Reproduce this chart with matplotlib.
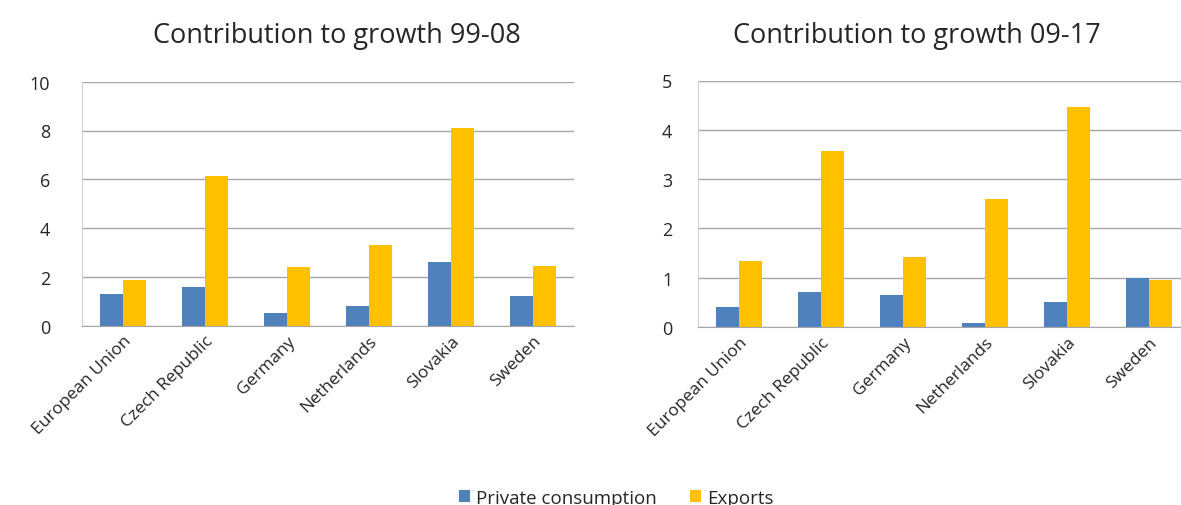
import matplotlib
matplotlib.use("Agg")
import matplotlib.pyplot as plt
import numpy as np

countries = ["European Union", "Czech Republic", "Germany", "Netherlands", "Slovakia", "Sweden"]
pc_99_08 = [1.29, 1.59, 0.52, 0.82, 2.60, 1.23]
ex_99_08 = [1.89, 6.12, 2.41, 3.31, 8.12, 2.46]
pc_09_17 = [0.41, 0.72, 0.64, 0.09, 0.51, 1.00]
ex_09_17 = [1.34, 3.58, 1.42, 2.60, 4.46, 0.96]
titles = ["Contribution to growth 99-08", "Contribution to growth 09-17"]
yticks_left = [0, 2, 4, 6, 8, 10]
yticks_right = [0, 1, 2, 3, 4, 5]
series_names = ["Private consumption", "Exports"]

BLUE = "#4F81BD"
YELLOW = "#FFC000"
GRID = "#A6A6A6"
TXT = "#262626"

plt.rcParams['font.family'] = ['Open Sans', 'DejaVu Sans']

W, H = 1181, 506
fig = plt.figure(figsize=(W / 100, H / 100), dpi=100)

def px_axes(l, r, t, b):
    return fig.add_axes([l / W, 1 - b / H, (r - l) / W, (b - t) / H])

ax1 = px_axes(82, 574, 82.7, 326.7)
ax2 = px_axes(698, 1190, 81.5, 328)

bw = 0.285
x = np.arange(len(countries))
handles = None
configs = [(ax1, pc_99_08, ex_99_08, titles[0], yticks_left, 23, 337),
           (ax2, pc_09_17, ex_09_17, titles[1], yticks_right, 18.5, 917)]
for ax, pc, ex, title, yt, ypad, tx in configs:
    b1 = ax.bar(x - bw / 2, pc, width=bw, color=BLUE, zorder=3, label=series_names[0])
    b2 = ax.bar(x + bw / 2, ex, width=bw, color=YELLOW, zorder=3, label=series_names[1])
    handles = [b1, b2]
    ax.set_xlim(-0.5, len(countries) - 0.5)
    ax.set_ylim(yt[0], yt[-1])
    ax.set_yticks(yt)
    ax.set_yticklabels([str(v) for v in yt], fontsize=13, color=TXT)
    ax.yaxis.grid(True, color=GRID, linewidth=1.0, zorder=0)
    ax.set_axisbelow(True)
    ax.set_xticks(x)
    ax.set_xticklabels(countries, rotation=45, ha='right', rotation_mode='anchor',
                       fontsize=12.5, color=TXT)
    ax.tick_params(axis='both', length=0)
    ax.tick_params(axis='y', pad=ypad)
    ax.tick_params(axis='x', pad=5)
    for s in ['top', 'right']:
        ax.spines[s].set_visible(False)
    ax.spines['left'].set_color('#D0D0D0')
    ax.spines['bottom'].set_color(GRID)
    ax.spines['bottom'].set_zorder(4)
    fig.text(tx / W, 1 - 43 / H, title, fontsize=19.5, color=TXT,
             ha='center', va='baseline')

fig.legend(handles, series_names, loc='center', bbox_to_anchor=(616 / W, 7 / H),
           ncol=2, frameon=False, fontsize=13.5, handlelength=0.6, handleheight=0.6,
           handletextpad=0.3, columnspacing=1.8, labelcolor=TXT)

fig.savefig("out.png", dpi=100)
